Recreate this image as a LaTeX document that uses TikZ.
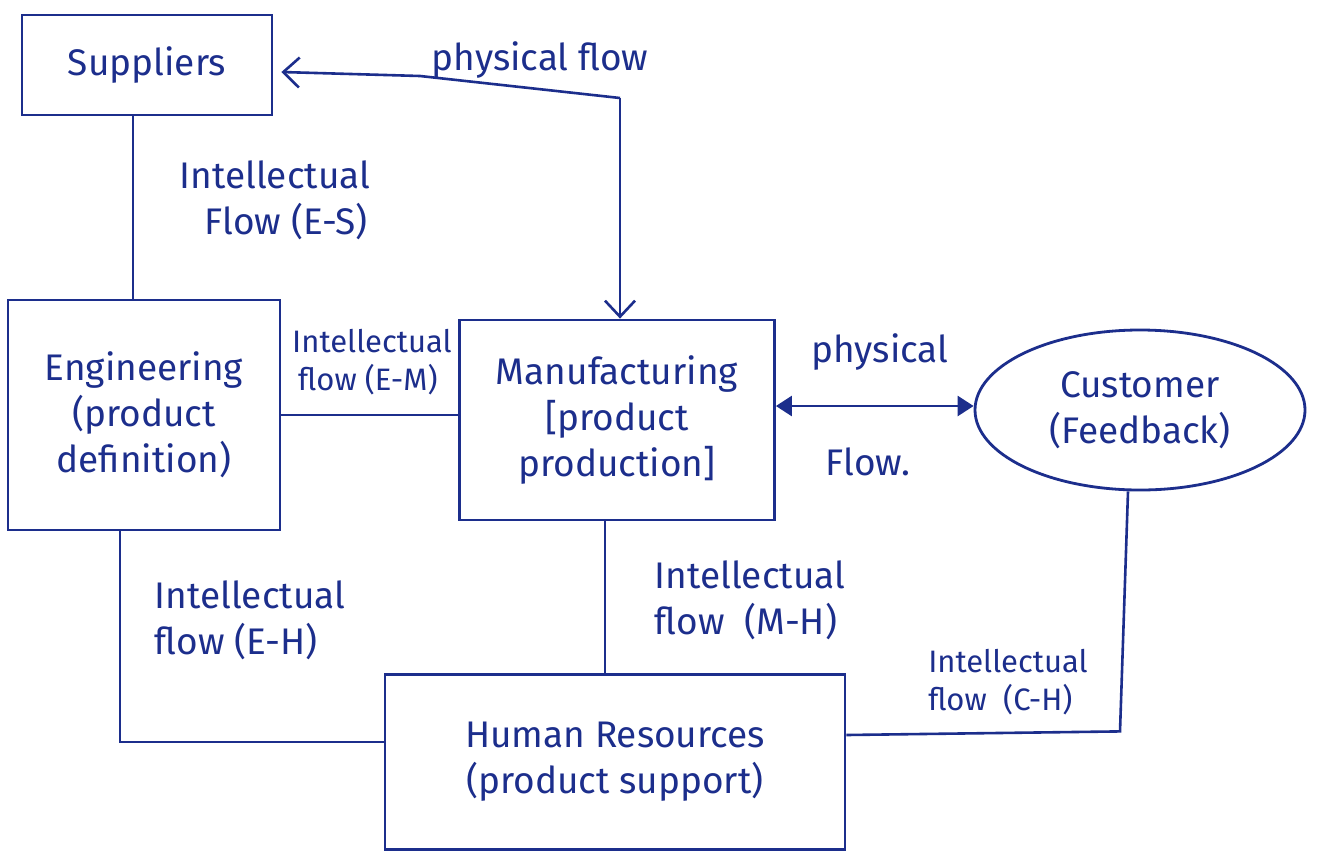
\documentclass[tikz,border=0pt]{standalone}
\usepackage{fontspec}
\setmainfont{Fira Sans}
\usetikzlibrary{arrows.meta,shapes.geometric,calc}
\definecolor{ink}{RGB}{28,46,140}
\begin{document}
\begin{tikzpicture}[x=1pt,y=-1pt,
  every node/.style={text=ink, font=\fontsize{37}{46}\selectfont},
  box/.style={draw=ink, line width=2.8pt, rectangle, align=center, inner sep=0pt},
  lbl/.style={align=left, inner sep=0pt},
  small/.style={font=\fontsize{31}{38}\selectfont},
  conn/.style={draw=ink, line width=2.6pt},
  barb/.style={-{Straight Barb[length=16pt,width=30pt,line width=2.6pt]}},
  tri/.style={{Triangle[length=16pt,width=20pt]}-{Triangle[length=16pt,width=20pt]}}]
\useasboundingbox (0,0) rectangle (1319,857);
\fill[white] (0,0) rectangle (1319,857);

% blocks
\node[box, minimum width=250pt, minimum height=100pt] (sup) at (147,65) {Suppliers};
\node[box, minimum width=272pt, minimum height=230pt] (eng) at (144,415)
  {Engineering\\(product\\definition)};
\node[box, minimum width=315pt, minimum height=200pt] (man) at (617,420)
  {Manufacturing\\{}[product\\production]};
\node[draw=ink, line width=2.8pt, ellipse, minimum width=330pt, minimum height=160pt,
  align=center, inner sep=0pt] (cust) at (1140,410) {Customer\\(Feedback)};
\node[box, minimum width=460pt, minimum height=175pt] (hr) at (615,762)
  {Human Resources\\(product support)};

% physical flow between suppliers and manufacturing
\coordinate (pf) at (620,98);
\draw[conn, barb] (pf) -- (420,76) -- ($(sup.east)+(8,7)$);
\draw[conn, barb] (pf) -- (pf |- man.north);
\node[lbl] (pft) at (540,60) {physical flow};

% suppliers -- engineering
\draw[conn] ($(sup.south)+(-14,0)$) -- ($(eng.north)+(-11,0)$);
\node[lbl] (es) at (275,200) {Intellectual\\\hspace*{25pt}Flow (E-S)};

% engineering -- manufacturing
\draw[conn] (eng.east) -- (eng.east -| man.west);
\node[lbl, small] (em) at (372,362) {Intellectual\\\hspace*{6pt}flow (E-M)};

% manufacturing <-> customer
\draw[conn, tri] ($(man.east)+(0,-14)$) -- (cust.west |- 0,406);
\node[lbl] (pc1) at (880,352) {physical};
\node[lbl] (pc2) at (868,462) {Flow.};

% engineering -- human resources
\draw[conn] ($(eng.south)+(-24,0)$) |- ($(hr.west)+(0,-20)$);
\node[lbl] (eh) at (250,620) {Intellectual\\flow (E-H)};

% manufacturing -- human resources
\draw[conn] (hr.north |- man.south) ++(-10,0) -- ($(hr.north)+(-10,0)$);
\node[lbl] (mh) at (750,600) {Intellectual\\flow \ (M-H)};

% customer -- human resources
\draw[conn] ($(cust.south)+(-12,0)$) -- ($(cust.south)+(-20,240)$) -- ($(hr.east)+(0,-27)$);
\node[lbl, small] (ch) at (1008,682) {Intellectual\\flow \ (C-H)};
\end{tikzpicture}
\end{document}
